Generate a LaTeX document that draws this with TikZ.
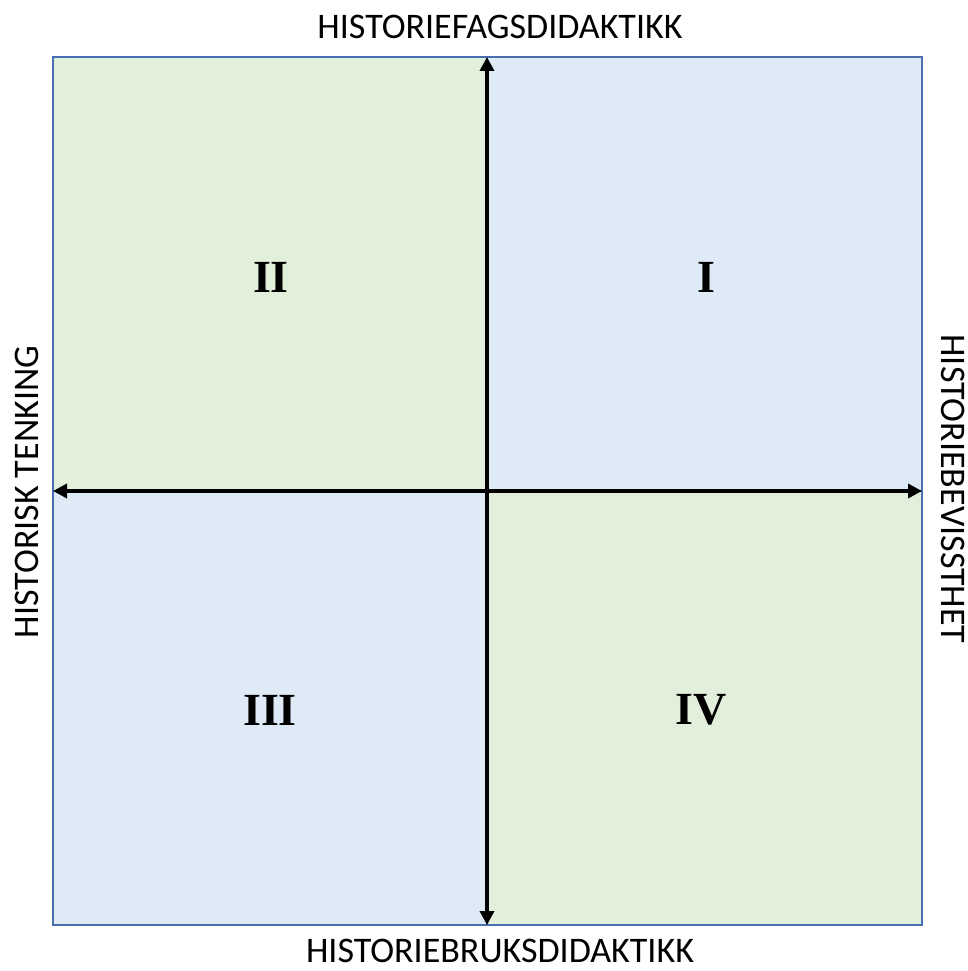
\documentclass[tikz,border=0pt]{standalone}
\usepackage{fontspec}
\setmainfont{Carlito}
\newfontfamily\numfont{Liberation Serif}
\usetikzlibrary{arrows.meta}
\definecolor{qgreen}{HTML}{E2EFDA}
\definecolor{qblue}{HTML}{DEEBF7}
\definecolor{qedge}{HTML}{4A6FAE}
\tikzset{
  quad/.style={draw=qedge, line width=1.2pt},
  axis/.style={line width=3.6pt, {Triangle[width=14pt,length=14pt]}-{Triangle[width=14pt,length=14pt]}},
  numeral/.style={font=\numfont\bfseries\fontsize{46}{50}\selectfont, inner sep=0pt},
  axislabel/.style={font=\fontsize{36}{40}\selectfont, inner sep=0pt, anchor=base}
}
\begin{document}
\begin{tikzpicture}[x=1pt,y=-1pt]
\useasboundingbox (0,0) rectangle (967,971);
\fill[white] (0,0) rectangle (967,971);
% quadrants
\filldraw[quad, fill=qgreen] (53,57) rectangle (487,491);
\filldraw[quad, fill=qblue] (487,57) rectangle (922,491);
\filldraw[quad, fill=qblue] (53,491) rectangle (487,925);
\filldraw[quad, fill=qgreen] (487,491) rectangle (922,925);
\draw[quad] (53,57) rectangle (922,925);
% axis endpoints
\coordinate (top) at (487,57);
\coordinate (bottom) at (487,925);
\coordinate (left) at (53,491);
\coordinate (right) at (922,491);
\draw[axis] (bottom) -- (top);
\draw[axis] (left) -- (right);
% numerals
\node[numeral] (n2) at (271,277) {II};
\node[numeral] (n1) at (706,277) {I};
\node[numeral] (n3) at (270,710) {III};
\node[numeral] (n4) at (701,710) {IV};
% labels
\node[axislabel] (lt) at (500,38.5) {HISTORIEFAGSDIDAKTIKK};
\node[axislabel] (lb) at (500,962) {HISTORIEBRUKSDIDAKTIKK};
\node[axislabel, rotate=90] (ll) at (38,492) {HISTORISK TENKING};
\node[axislabel, rotate=-90] (lr) at (941,489) {HISTORIEBEVISSTHET};
\end{tikzpicture}
\end{document}
